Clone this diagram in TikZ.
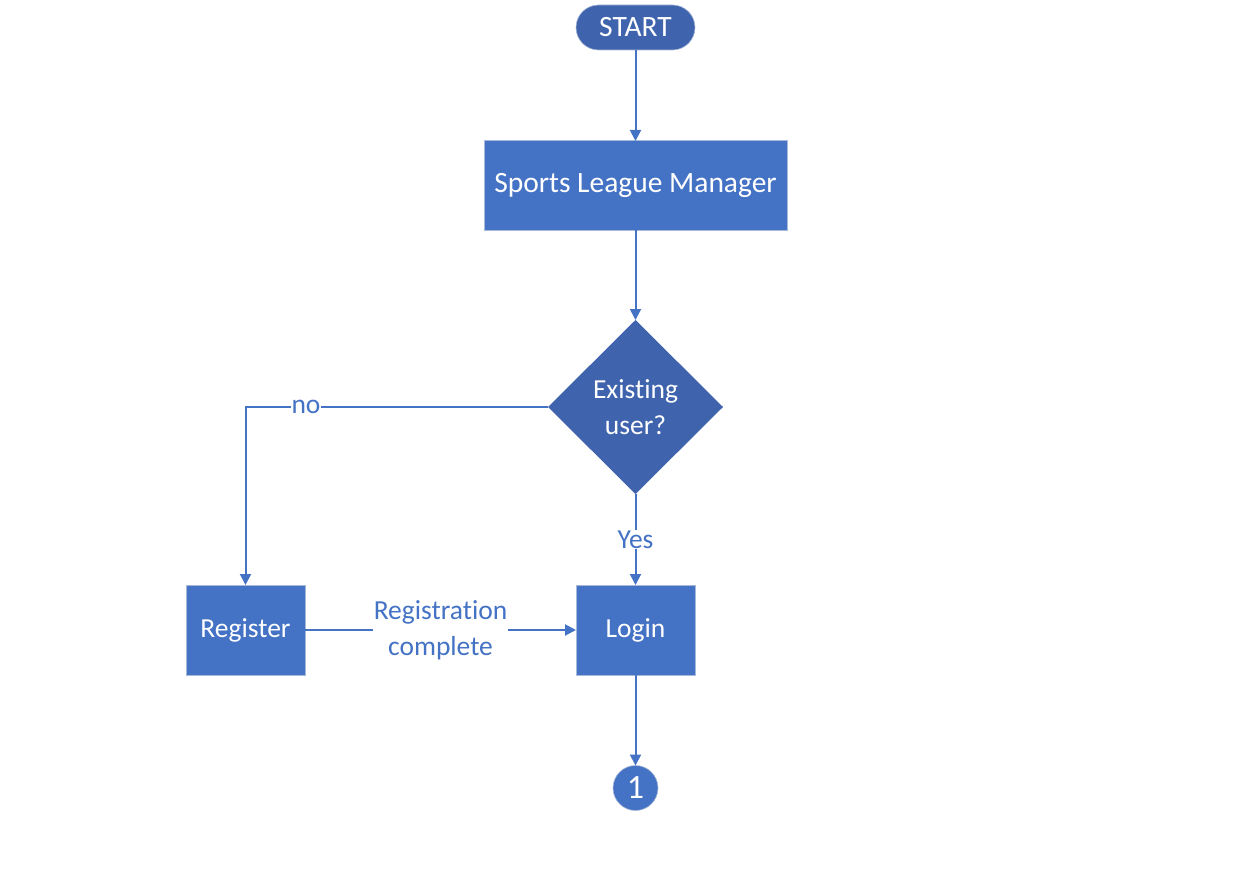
\documentclass[tikz,border=0pt]{standalone}
\usepackage{fontspec}
\setmainfont{Carlito}[Ligatures=NoCommon]
\usetikzlibrary{arrows.meta,shapes.geometric}
\definecolor{boxblue}{HTML}{4472C4}
\definecolor{darkblue}{HTML}{3F64AD}
\definecolor{edgegray}{HTML}{A8B8D8}
\begin{document}
\begin{tikzpicture}[x=1pt,y=-1pt,
  every node/.style={inner sep=0pt, outer sep=0pt},
  procbox/.style={rectangle, fill=boxblue, draw=edgegray, line width=1pt, text=white, font=\fontsize{27.5}{33}\selectfont, align=center},
  termbox/.style={rectangle, rounded corners=22.5pt, fill=darkblue, draw=edgegray, line width=0.6pt, text=white, font=\fontsize{29.5}{34}\selectfont, minimum width=119pt, minimum height=45pt},
  decbox/.style={diamond, fill=darkblue, text=white, font=\fontsize{27.5}{36}\selectfont, align=center, minimum width=175pt, minimum height=174pt, aspect=1},
  connbox/.style={circle, fill=boxblue, draw=edgegray, line width=0.6pt, text=white, font=\fontsize{34}{36}\selectfont, minimum size=45pt},
  lbl/.style={fill=white, text=boxblue, font=\fontsize{27.5}{36}\selectfont, align=center, inner sep=1pt},
  flow/.style={draw=boxblue, line width=2pt, -{Triangle[length=11pt,width=11pt]}}
]
\useasboundingbox (0,0) rectangle (1253,880);
\node[termbox] (start) at (635.5,27.5) {START};
\node[procbox, minimum width=303pt, minimum height=89pt, font=\fontsize{29.5}{34}\selectfont] (slm) at (635.5,185.5) {Sports League Manager};
\node[decbox] (dec) at (635.5,407) {Existing\\user?};
\node[procbox, minimum width=119pt, minimum height=90pt] (reg) at (245.5,630) {Register};
\node[procbox, minimum width=119pt, minimum height=90pt] (login) at (635.5,630) {Login};
\node[connbox] (c1) at (635.5,788) {1};

\draw[flow] (start) -- (slm);
\draw[flow] (slm) -- (dec.north);
\draw[flow] (dec.west) -| node[lbl, pos=0.4] {no} (reg.north);
\draw[flow] (dec.south) -- node[lbl, pos=0.5] {Yes} (login.north);
\draw[flow] (reg.east) -- node[lbl, pos=0.5] {Registration\\complete} (login.west);
\draw[flow] (login) -- (c1);
\end{tikzpicture}
\end{document}
